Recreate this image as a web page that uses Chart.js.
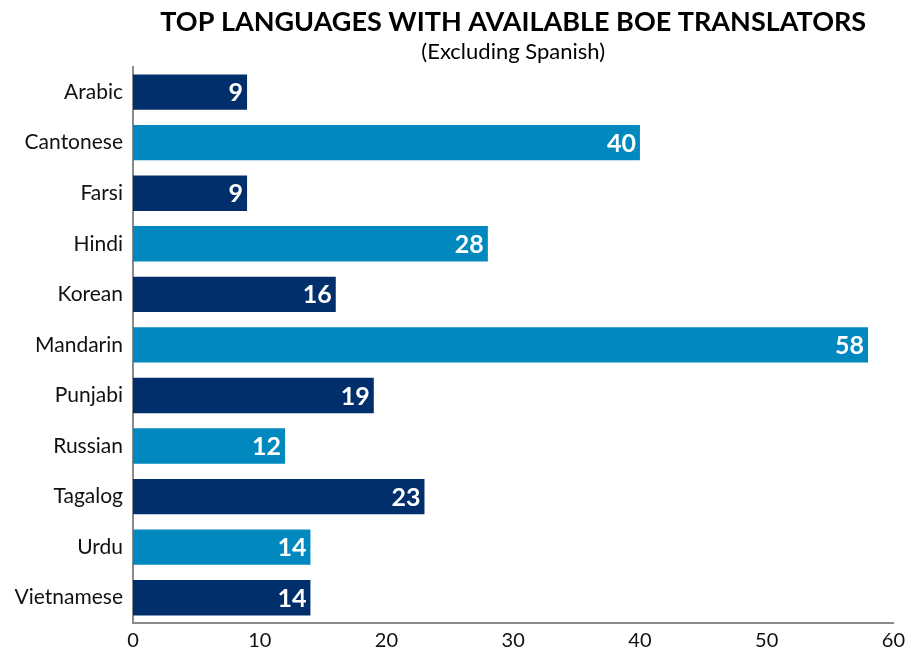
<!DOCTYPE html>
<html>
<head>
<meta charset="utf-8">
<script src="https://cdn.jsdelivr.net/npm/chart.js@4"></script>
<style>
  html, body { margin:0; padding:0; background:#ffffff; }
  #wrap { width:911px; height:656px; }
</style>
</head>
<body>
<div id="wrap"><canvas id="langChart" width="911" height="656"></canvas></div>
<script>
const idiomas = ["Arabic","Cantonese","Farsi","Hindi","Korean","Mandarin","Punjabi","Russian","Tagalog","Urdu","Vietnamese"];
const traductores = [9,40,9,28,16,58,19,12,23,14,14];
const colores = ['#002f6c','#0088bf'];
const tituloTexto = 'TOP LANGUAGES WITH AVAILABLE BOE TRANSLATORS';
const subtituloTexto = '(Excluding Spanish)';
const fuente = 'Lato, "Liberation Sans", sans-serif';

// etiquetas blancas dentro del final de cada barra
const etiquetasBarras = {
  id:'etiquetasBarras',
  afterDatasetsDraw(chart) {
    const ctx = chart.ctx;
    const meta = chart.getDatasetMeta(0);
    ctx.save();
    ctx.fillStyle = '#ffffff';
    ctx.font = 'bold 25px ' + fuente;
    ctx.textAlign = 'right';
    ctx.textBaseline = 'middle';
    meta.data.forEach((bar,i)=> {
      ctx.fillText(String(traductores[i]), bar.x - 4, bar.y + 1);
    });
    ctx.restore();
  }
};

const ctx = document.getElementById('langChart').getContext('2d');
const langChart = new Chart(ctx, {
  type:'bar',
  data:{
    labels: idiomas,
    datasets:[{
      data: traductores,
      backgroundColor: idiomas.map((_,i)=> colores[i % 2]),
      barPercentage: 0.7,
      categoryPercentage: 1
    }]
  },
  options:{
    indexAxis:'y',
    responsive:false,
    animation:false,
    layout:{ padding:{ left:0, right:14, top:0, bottom:0 } },
    scales:{
      x:{
        min:0, max:60,
        ticks:{ stepSize:10, color:'#111', font:{ size:20, family:fuente }, padding:6 },
        grid:{ display:false, drawTicks:false },
        border:{ display:true, color:'#8a8a8a', width:2 },
        afterFit(s){ s.height = 33; }
      },
      y:{
        ticks:{ color:'#111', font:{ size:21, family:fuente }, padding:10 },
        grid:{ display:false, drawTicks:false },
        border:{ display:true, color:'#8a8a8a', width:2 },
        afterFit(s){ s.width = 133; }
      }
    },
    plugins:{
      legend:{ display:false },
      tooltip:{ enabled:false },
      title:{ display:true, text:tituloTexto, color:'#000', fullSize:false,
        font:{ size:27, weight:'bold', family:fuente }, padding:{ top:6, bottom:0 } },
      subtitle:{ display:true, text:subtituloTexto, color:'#000', fullSize:false,
        font:{ size:22, family:fuente }, padding:{ top:0, bottom:2 } }
    }
  },
  plugins:[etiquetasBarras]
});
</script>
</body>
</html>
